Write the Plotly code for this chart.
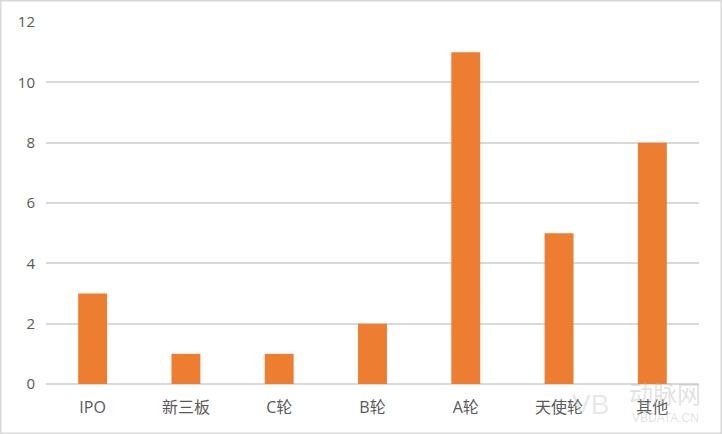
import plotly.graph_objects as go

categories = ["IPO", "新三板", "C轮", "B轮", "A轮", "天使轮", "其他"]
values = [3, 1, 1, 2, 11, 5, 8]
y_ticks = [0, 2, 4, 6, 8, 10, 12]

W, H = 722, 434
L, R, T, B = 46, 23, 22, 50
pw, ph = W - L - R, H - T - B

fig = go.Figure(go.Bar(x=categories, y=values, marker=dict(color="#ED7D31", line=dict(width=0)),
                       hoverinfo="x+y"))

def px_x(p):
    return (p - L) / pw

def px_y(p):
    return (H - B - p) / ph

fig.add_shape(type="rect", xref="paper", yref="paper",
              x0=px_x(0.75), x1=px_x(W - 0.75), y0=px_y(H - 0.75), y1=px_y(0.75),
              line=dict(color="#D9D9D9", width=1.5), fillcolor="rgba(0,0,0,0)", layer="above")

# watermark
fig.add_annotation(xref="paper", yref="paper", x=px_x(590), y=px_y(404), text="VB",
                   showarrow=False, font=dict(family="Liberation Sans", size=28, color="rgba(190,190,190,0.35)"),
                   xanchor="center", yanchor="middle")
fig.add_annotation(xref="paper", yref="paper", x=px_x(665), y=px_y(392), text="动脉网",
                   showarrow=False, font=dict(family="Noto Sans CJK SC", size=24, color="rgba(190,190,190,0.45)"),
                   xanchor="center", yanchor="middle")
fig.add_annotation(xref="paper", yref="paper", x=px_x(665), y=px_y(418), text="VBDATA.CN",
                   showarrow=False, font=dict(family="Liberation Sans", size=12, color="rgba(190,190,190,0.45)"),
                   xanchor="center", yanchor="middle")

fig.update_layout(
    width=W, height=H,
    margin=dict(l=L, r=R, t=T, b=B, pad=0),
    paper_bgcolor="white", plot_bgcolor="white",
    bargap=0.69,
    showlegend=False,
    font=dict(family="Open Sans, Noto Sans CJK SC", size=14, color="#595959"),
    xaxis=dict(showgrid=False, zeroline=False, showline=False, ticks="",
               ticklabelstandoff=12,
               tickfont=dict(family="Open Sans, Noto Sans CJK SC", size=16, color="#595959")),
    yaxis=dict(range=[0, 12], tickvals=y_ticks, showgrid=True, gridcolor="#D9D9D9", gridwidth=1.5,
               zeroline=True, zerolinecolor="#D9D9D9", zerolinewidth=1.5, showline=False, ticks="",
               ticklabelstandoff=10,
               tickfont=dict(family="Open Sans", size=15, color="#595959")),
)

fig.write_html("out.html", config={"displayModeBar": False},
               post_script="document.body.style.margin='0';document.body.style.padding='0';document.body.style.overflow='hidden';")
